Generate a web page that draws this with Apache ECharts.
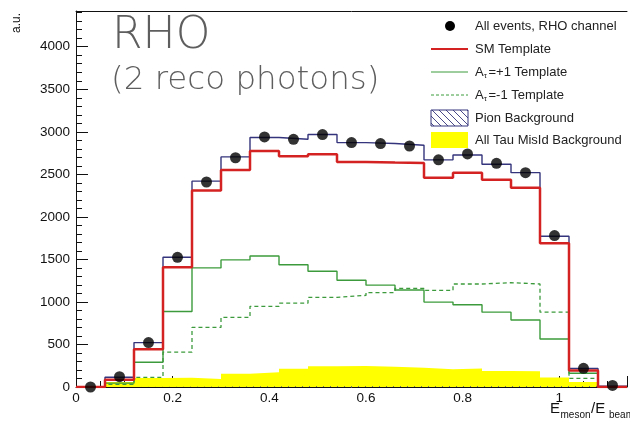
<!DOCTYPE html>
<html>
<head>
<meta charset="utf-8">
<script src="https://cdn.jsdelivr.net/npm/echarts@6/dist/echarts.min.js"></script>
<style>
  html, body { margin: 0; padding: 0; background: #fff; }
  #chart { width: 630px; height: 421px; }
</style>
</head>
<body>
<div id="chart"></div>
<script>
// Bin edges of E_meson/E_beam (19 bins of width 0.06)
const binEdges = [0, 0.06, 0.12, 0.18, 0.24, 0.30, 0.36, 0.42, 0.48, 0.54, 0.60,
                  0.66, 0.72, 0.78, 0.84, 0.90, 0.96, 1.02, 1.08, 1.14];
const binCenters = [0.03, 0.09, 0.15, 0.21, 0.27, 0.33, 0.39, 0.45, 0.51, 0.57,
                    0.63, 0.69, 0.75, 0.81, 0.87, 0.93, 0.99, 1.05, 1.11];

// All events, RHO channel (data points)
const dataEvents = [0, 121, 522, 1525, 2410, 2695, 2940, 2912, 2968, 2873,
                    2862, 2833, 2670, 2740, 2630, 2520, 1780, 220, 18];
// SM template
const smTemplate = [0, 85, 444, 1407, 2310, 2550, 2775, 2712, 2736, 2645,
                    2638, 2632, 2460, 2520, 2437, 2341, 1690, 195, 0];
// A_tau = +1 template
const aTauPlus = [0, 45, 291, 888, 1400, 1494, 1540, 1437, 1360, 1254,
                  1197, 1140, 998, 967, 880, 788, 564, 161, 0];
// A_tau = -1 template
const aTauMinus = [0, 30, 114, 409, 700, 818, 948, 985, 1054, 1077,
                   1110, 1160, 1136, 1211, 1226, 1211, 880, 102, 0];
// All tau mis-identification background
const tauMisId = [0, 60, 105, 110, 94, 155, 173, 215, 245, 248,
                  238, 226, 210, 218, 188, 186, 112, 58, 0];
// Pion background (very small)
const pionBkg = [0, 4, 6, 8, 10, 10, 10, 8, 8, 8, 8, 6, 6, 6, 6, 5, 4, 2, 0];
// Outline of the stacked prediction (SM + backgrounds)
const stackTotal = [0, 114, 522, 1525, 2420, 2705, 2933, 2912, 2968, 2873,
                    2862, 2841, 2670, 2728, 2618, 2520, 1772, 218, 8];

const yTicks = [0, 500, 1000, 1500, 2000, 2500, 3000, 3500, 4000];
const xTicks = ['0', '0.2', '0.4', '0.6', '0.8', '1'];

// Turn bin contents into step-line points: one point per low edge plus the final edge
function histPoints(values) {
  const pts = values.map((v, i) => [binEdges[i], v]);
  pts.push([binEdges[binEdges.length - 1], values[values.length - 1]]);
  return pts;
}

// Diagonal hatch pattern for the pion background
function hatchCanvas() {
  const c = document.createElement('canvas');
  c.width = 7; c.height = 7;
  const g = c.getContext('2d');
  g.strokeStyle = '#4a4a8a';
  g.lineWidth = 1;
  g.beginPath();
  g.moveTo(-1, -1); g.lineTo(8, 8);
  g.moveTo(-1, 6); g.lineTo(1, 8);
  g.moveTo(6, -1); g.lineTo(8, 1);
  g.stroke();
  return c;
}
const hatch = { image: hatchCanvas(), repeat: 'repeat' };

const RED = '#d42222';
const GREEN = '#3c9a3c';
const NAVY = '#34347c';
const YELLOW = '#ffff00';
const FONT = 'Liberation Sans';
const TITLE_FONT = '"DejaVu Sans"';

const chart = echarts.init(document.getElementById('chart'), null, { renderer: 'canvas' });

const legendX = 431, legendTextX = 475;
const legendRows = [26, 49, 72, 95, 118, 140];

function legendText(x, y, txt) {
  return { type: 'text', x: x, y: y, style: { text: txt, fill: '#222', font: '13px "' + FONT + '"', verticalAlign: 'middle' } };
}
function tauLabel(y, sign) {
  return [
    legendText(legendTextX, y, 'A'),
    { type: 'text', x: legendTextX + 8.8, y: y + 4, style: { text: 'τ', fill: '#222', font: '8px "' + FONT + '"', verticalAlign: 'middle' } },
    legendText(legendTextX + 13.5, y, '=' + sign + '1 Template')
  ];
}

const option = {
  animation: false,
  backgroundColor: '#fff',
  grid: { left: 76, top: 11, right: 2, bottom: 34, containLabel: false },
  xAxis: [{
    type: 'value', min: 0, max: 1.14, interval: 0.2,
    axisLine: { show: true, lineStyle: { color: '#111', width: 1 } },
    axisTick: { show: true, inside: true, length: 11, lineStyle: { color: '#111' } },
    minorTick: { show: true, splitNumber: 4, length: 6, lineStyle: { color: '#111' } },
    splitLine: { show: false },
    axisLabel: {
      color: '#111', fontSize: 13.5, fontFamily: FONT, margin: 4,
      formatter: function (v) {
        const k = Math.round(v / 0.2);
        return Math.abs(v - k * 0.2) < 1e-6 && k < xTicks.length ? xTicks[k] : '';
      }
    }
  }, {
    type: 'value', position: 'top', min: 0, max: 1.14,
    axisLine: { show: true, onZero: false, lineStyle: { color: '#111', width: 1 } },
    axisTick: { show: false }, axisLabel: { show: false }, splitLine: { show: false }
  }],
  yAxis: {
    type: 'value', min: 0, max: 4420, interval: 500,
    axisLine: { show: true, lineStyle: { color: '#111', width: 1 } },
    axisTick: { show: true, inside: true, length: 12, lineStyle: { color: '#111' } },
    minorTick: { show: true, splitNumber: 5, length: 6, lineStyle: { color: '#111' } },
    splitLine: { show: false },
    axisLabel: {
      color: '#111', fontSize: 13.5, fontFamily: FONT, margin: 6,
      formatter: function (v) { return yTicks.indexOf(v) >= 0 ? String(v) : ''; }
    }
  },
  series: [
    {
      name: 'All Tau MisId Background', type: 'line', step: 'end', data: histPoints(tauMisId),
      symbol: 'none', lineStyle: { width: 0 }, areaStyle: { color: YELLOW, opacity: 1 },
      stack: 'bkg', z: 1, silent: true
    },
    {
      name: 'Pion Background', type: 'line', step: 'end', data: histPoints(pionBkg),
      symbol: 'none', lineStyle: { width: 0 }, areaStyle: { color: hatch, opacity: 1 },
      stack: 'bkg', z: 1, silent: true
    },
    {
      name: 'Stack', type: 'line', step: 'end', data: histPoints(stackTotal),
      symbol: 'none', lineStyle: { color: NAVY, width: 1.4 }, z: 3, silent: true
    },
    {
      name: 'A_tau=-1 Template', type: 'line', step: 'end', data: histPoints(aTauMinus),
      symbol: 'none', lineStyle: { color: GREEN, width: 1.3, type: [4, 3] }, z: 4, silent: true
    },
    {
      name: 'A_tau=+1 Template', type: 'line', step: 'end', data: histPoints(aTauPlus),
      symbol: 'none', lineStyle: { color: GREEN, width: 1.4 }, z: 4, silent: true
    },
    {
      name: 'SM Template', type: 'line', step: 'end', data: histPoints(smTemplate),
      symbol: 'none', lineStyle: { color: RED, width: 2.5 }, z: 5, silent: true
    },
    {
      name: 'All events, RHO channel', type: 'scatter',
      data: binCenters.map((x, i) => [x, dataEvents[i]]),
      symbol: 'circle', symbolSize: 11, itemStyle: { color: '#000' }, z: 6, silent: true
    }
  ],
  graphic: [
    // Channel title
    { type: 'text', x: 112, y: 15, style: { text: 'RHO', fill: '#5e5e5e', font: '200 44px ' + TITLE_FONT } },
    { type: 'text', x: 111, y: 64, style: { text: '(2 reco photons)', fill: '#5e5e5e', font: '200 32.5px ' + TITLE_FONT } },
    // Axis titles
    { type: 'text', x: 11, y: 33, rotation: Math.PI / 2, style: { text: 'a.u.', fill: '#111', font: '12px "' + FONT + '"' } },
    { type: 'text', x: 550, y: 401, style: { text: 'E', fill: '#111', font: '15px "' + FONT + '"' } },
    { type: 'text', x: 560.5, y: 410, style: { text: 'meson', fill: '#111', font: '10px "' + FONT + '"' } },
    { type: 'text', x: 591, y: 401, style: { text: '/E', fill: '#111', font: '15px "' + FONT + '"' } },
    { type: 'text', x: 609, y: 410, style: { text: 'beam', fill: '#111', font: '10px "' + FONT + '"' } },
    // Legend
    { type: 'circle', shape: { cx: 450, cy: legendRows[0], r: 5 }, style: { fill: '#000' } },
    legendText(legendTextX, legendRows[0], 'All events, RHO channel'),
    { type: 'line', shape: { x1: legendX, y1: legendRows[1], x2: legendX + 37, y2: legendRows[1] }, style: { stroke: RED, lineWidth: 2 } },
    legendText(legendTextX, legendRows[1], 'SM Template'),
    { type: 'line', shape: { x1: legendX, y1: legendRows[2], x2: legendX + 37, y2: legendRows[2] }, style: { stroke: GREEN, lineWidth: 1 } },
    ...tauLabel(legendRows[2], '+'),
    { type: 'line', shape: { x1: legendX, y1: legendRows[3], x2: legendX + 37, y2: legendRows[3] }, style: { stroke: GREEN, lineWidth: 1, lineDash: [3, 2] } },
    ...tauLabel(legendRows[3], '-'),
    { type: 'rect', shape: { x: legendX, y: 110, width: 37, height: 16 }, style: { fill: hatch, stroke: NAVY, lineWidth: 1 } },
    legendText(legendTextX, legendRows[4], 'Pion Background'),
    { type: 'rect', shape: { x: legendX, y: 132, width: 37, height: 16 }, style: { fill: YELLOW } },
    legendText(legendTextX, legendRows[5], 'All Tau MisId Background')
  ]
};

chart.setOption(option);
</script>
</body>
</html>
